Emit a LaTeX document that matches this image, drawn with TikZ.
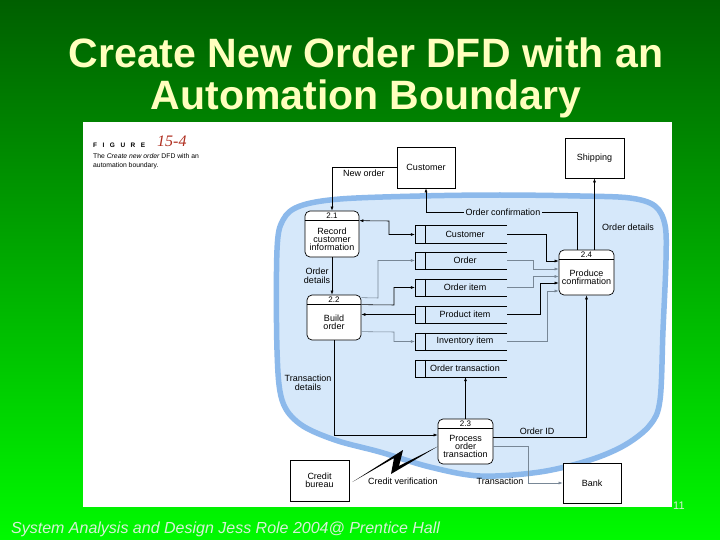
\documentclass[tikz,border=0pt]{standalone}
\usepackage{fontspec}
\setmainfont{Liberation Sans}
\newfontfamily\serifnum{Liberation Serif}
\usetikzlibrary{arrows.meta,calc}
\definecolor{titleyellow}{RGB}{255,255,190}
\definecolor{bgtop}{RGB}{0,95,0}
\definecolor{bgbot}{RGB}{0,250,0}
\definecolor{blobfill}{RGB}{214,232,250}
\definecolor{blobline}{RGB}{140,185,235}
\definecolor{figred}{RGB}{175,45,30}
\definecolor{footgray}{RGB}{215,240,215}
\definecolor{flowgray}{RGB}{120,135,150}
\begin{document}
\begin{tikzpicture}[x=1pt,y=-1pt,
  every node/.style={font=\fontsize{9}{8.5}\selectfont, inner sep=0pt},
  entity/.style={draw, fill=white, line width=0.7pt, minimum width=58pt, minimum height=41pt, align=center},
  proc/.style={draw, fill=white, rounded corners=5pt, line width=0.7pt, minimum width=54pt, minimum height=45pt},
  ptext/.style={align=center, font=\fontsize{9}{8}\selectfont},
  pnum/.style={font=\fontsize{8}{8}\selectfont},
  store/.style={minimum width=92pt, minimum height=17pt},
  flow/.style={line width=0.55pt, -{Latex[length=4pt,width=3pt]}},
  lflow/.style={flow, draw=flowgray},
  lbl/.style={align=center, font=\fontsize{9}{8.5}\selectfont},
]
\useasboundingbox (0,0) rectangle (720,540);
% background
\shade[top color=bgtop, bottom color=bgbot] (0,0) rectangle (720,540);
\node[anchor=base, font=\fontsize{41}{45}\selectfont\bfseries, text=titleyellow] (t1) at (366,68) {Create New Order DFD with an};
\node[anchor=base, font=\fontsize{41}{45}\selectfont\bfseries, text=titleyellow] (t2) at (366,110) {Automation Boundary};
\fill[white] (83,122) rectangle (672,507);
\node[anchor=base west, font=\fontsize{16}{16}\selectfont\itshape, text=footgray] (foot) at (11,533) {System Analysis and Design Jess Role 2004@ Prentice Hall};
\node[anchor=base west, font=\fontsize{11}{11}\selectfont, text=footgray] (pg) at (673,509) {11};
% figure caption
\node[anchor=base west, font=\fontsize{6.5}{7}\selectfont\bfseries] (fig) at (93,148) {F\hspace{5.5pt}I\hspace{5.5pt}G\hspace{5.5pt}U\hspace{5.5pt}R\hspace{5.5pt}E};
\node[anchor=base west, font=\serifnum\fontsize{16}{16}\selectfont\itshape, text=figred] (fignum) at (157,147) {15-4};
\node[anchor=north west, align=left, font=\fontsize{6.8}{9.5}\selectfont] (cap) at (93,153) {The \textit{Create new order} DFD with an\\automation boundary.};
% automation boundary
\draw[blobline, line width=5.5pt, fill=blobfill] plot[smooth cycle, tension=0.55] coordinates {
 (277,250) (283,220) (300,206) (340,199) (420,196) (500,195) (580,196) (630,198)
 (655,206) (665,225) (666,260) (663,330) (660,400) (650,425) (625,445) (590,460)
 (540,472) (480,476) (430,467) (380,452) (335,440) (300,424) (282,400) (277,350)};
% external entities
\node[entity] (eCust) at (426,167.5) {Customer};
\node[entity, minimum width=59pt, minimum height=40pt] (eShip) at (594.5,158) {Shipping};
\node[entity, minimum width=59pt] (eCredit) at (319.5,480.5) {Credit\\bureau};
\node[entity, minimum height=40pt] (eBank) at (592,483) {Bank};
% processes
\node[proc, minimum height=46pt] (p21) at (332,234) {};
\node[proc] (p22) at (334,317.5) {};
\node[proc, minimum width=55pt] (p23) at (465.5,441.5) {};
\node[proc, minimum width=55pt] (p24) at (586.5,272.5) {};
\foreach \p/\n in {p21/2.1, p22/2.2, p23/2.3, p24/2.4}{
  \draw[line width=0.6pt] ($(\p.north west)+(0,10)$) -- ($(\p.north east)+(0,10)$);
  \node[pnum] (\p n) at ($(\p.north)+(0,5.5)$) {\n};
}
\node[ptext] (p21t) at ($(p21.center)+(0,5)$) {Record\\customer\\information};
\node[ptext] (p22t) at ($(p22.center)+(0,5)$) {Build\\order};
\node[ptext] (p23t) at ($(p23.center)+(0,5)$) {Process\\order\\transaction};
\node[ptext] (p24t) at ($(p24.center)+(0,5)$) {Produce\\confirmation};
% data stores
\node[store] (sCust) at (461,234.5) {\hspace{8pt}Customer};
\node[store] (sOrder) at (461,260.5) {\hspace{8pt}Order};
\node[store] (sItem) at (461,287.5) {\hspace{8pt}Order item};
\node[store] (sProd) at (461,314.5) {\hspace{8pt}Product item};
\node[store] (sInv) at (461,341.5) {\hspace{8pt}Inventory item};
\node[store] (sTrans) at (461,368.5) {\hspace{8pt}Order transaction};
\foreach \s in {sCust,sOrder,sItem,sProd,sInv,sTrans}{
  \draw[line width=0.6pt] (\s.north east) -- (\s.north west) -- (\s.south west) -- (\s.south east);
  \draw[line width=0.6pt] ($(\s.north west)+(10,0)$) -- ($(\s.south west)+(10,0)$);
}
% flows
\draw[flow] (eCust.west) -| (p21.north);
\node[lbl] (lNew) at (364,173) {New order};
\draw[flow] ($(p24.north)+(-9.5,0)$) -- (577,212) -- (426,212) -- (eCust.south);
\node[lbl, fill=blobfill, inner sep=2pt] (lConf) at (503,212) {Order confirmation};
\draw[flow] (p24.north -| eShip.south) -- (eShip.south);
\node[lbl] (lOD) at (628,227) {Order details};
\draw[flow] (p21.south) -- (p21.south |- p22.north);
\node[lbl] (lOD2) at (317,276) {Order\\details};
\draw[line width=0.55pt, {Latex[length=4pt,width=3pt]}-{Latex[length=4pt,width=3pt]}] ($(p21.north east)+(0,10)$) -- (389,221) -- (389,234.5) -- (sCust.west);
\draw[lflow] ($(p22.north east)+(0,3)$) -- (378,298) -- (378,260.5) -- (sOrder.west);
\draw[flow] ($(p22.north east)+(0,10)$) -- (394,305) -- (394,287.5) -- (sItem.west);
\draw[flow] (sProd.west) -- (sProd.west -| p22.east);
\draw[lflow] ($(p22.north east)+(0,37)$) -- (394,332) -- (394,341.5) -- (sInv.west);
\draw[flow] (p22.south) |- ($(p23.west)+(0,-6.5)$);
\node[lbl] (lTD) at (308,383) {Transaction\\details};
\draw[flow] (p23.north) -- (p23.north |- sTrans.south);
\draw[flow] ($(p23.east)+(0,-4.5)$) -| (p24.south);
\node[lbl] (lOID) at (537,431) {Order ID};
\draw[lflow] ($(p23.east)+(0,4.5)$) -- (528,446) -- (528,483) -- (eBank.west);
\node[lbl] (lTr) at (500,481) {Transaction};
% stores to 2.4
\draw[flow] (sCust.east) -- (546,234.5) -- (546,261) -- ($(p24.west)+(0,-11.5)$);
\draw[lflow] (sOrder.east) -- (533,260.5) -- (533,269) -- ($(p24.west)+(0,-3.5)$);
\draw[lflow] (sItem.east) -- (533,287.5) -- (533,276.5) -- ($(p24.west)+(0,4)$);
\draw[flow] (sProd.east) -- (540,314.5) -- (540,283) -- ($(p24.west)+(0,10.5)$);
\draw[lflow] (sInv.east) -- (547,341.5) -- (547,291) -- ($(p24.west)+(0,18.5)$);
% credit verification (lightning)
\coordinate (bolt1) at ($(eCredit.east)+(3,1.5)$);
\coordinate (bolt2) at ($(p23.west)+(0,5)$);
\fill[black] (bolt1) -- (403,450) -- (399,466) -- (bolt2) -- (391,474) -- (394,458) -- cycle;
\node[lbl] (lCV) at (403,481) {Credit verification};
\end{tikzpicture}
\end{document}
